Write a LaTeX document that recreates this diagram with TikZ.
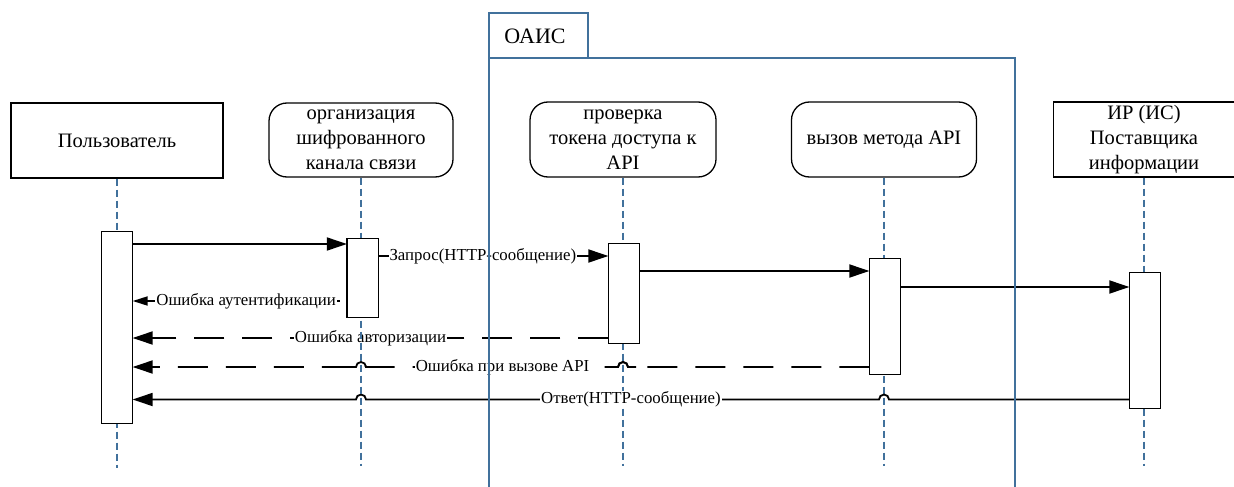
\documentclass[tikz,border=0pt]{standalone}
\usepackage{fontspec}
\setmainfont{Liberation Serif}
\usetikzlibrary{arrows.meta}
\definecolor{lifeblue}{RGB}{65,113,156}
\begin{document}
\begin{tikzpicture}[x=1pt,y=-1pt,
  actorbox/.style={draw, line width=1.3pt, align=center, inner sep=0pt, font=\fontsize{20.5}{25}\selectfont},
  roundbox/.style={actorbox, rounded corners=18pt},
  life/.style={draw=lifeblue, line width=2pt, dash pattern=on 7pt off 4pt},
  act/.style={draw, fill=white, line width=1.3pt, minimum width=30pt, inner sep=0pt},
  msgline/.style={line width=1.8pt},
  msg/.style={msgline, -{Triangle[length=20pt,width=13pt]}},
  ret/.style={msg, dash pattern=on 30pt off 18pt},
  lbl/.style={fill=white, inner sep=1pt, font=\fontsize{16.8}{19}\selectfont},
  frameline/.style={draw=lifeblue, line width=1.3pt}
]
\useasboundingbox (0,0) rectangle (1234,487);

% actors
\node[actorbox, minimum width=212pt, minimum height=75pt] (u) at (117,140.5) {Пользователь};
\node[roundbox, minimum width=184pt, minimum height=74pt] (o) at (361,140) {организация\\шифрованного\\канала связи};
\node[roundbox, minimum width=186pt, minimum height=75pt] (p) at (623,139.5) {проверка\\токена доступа к\\API};
\node[roundbox, minimum width=185pt, minimum height=75pt] (v) at (884,139.5) {вызов метода API};
\node[actorbox, minimum width=181pt, minimum height=75pt] (i) at (1144,139.5) {ИР (ИС)\\Поставщика\\информации};

% lifelines (except o)
\draw[life] (u.south) -- (u.south |- 0,468);
\draw[life] (p.south) -- (p.south |- 0,466);
\draw[life] (v.south) -- (v.south |- 0,466);
\draw[life] (i.south) -- (i.south |- 0,466);

% activation boxes as named nodes (drawn later on top)
\path
  (117,327.5) node[act, minimum height=191pt] (a1) {}
  (362.5,278) node[act, minimum height=78pt] (a2) {}
  (624,293.5) node[act, minimum height=99pt] (a3) {}
  (885,316.5) node[act, minimum height=115pt] (a4) {}
  (1145,340.5) node[act, minimum height=135pt] (a5) {};

% messages
\draw[msg] (a1.east |- 0,244) -- (a2.west |- 0,244);
\draw[msg] (a2.east |- 0,256) -- node[lbl, pos=0.455] (lq) {Запрос(HTTP-сообщение)} (a3.west |- 0,256);
\draw[msg] (a3.east |- 0,271) -- (a4.west |- 0,271);
\draw[msg] (a4.east |- 0,287) -- (a5.west |- 0,287);

\draw[msgline, -{Triangle[length=15pt,width=9pt]}, shorten <=7pt] (a2.west |- 0,301) -- node[lbl, pos=0.47] (le1) {Ошибка аутентификации} (a1.east |- 0,301);

\draw[ret] (a3.west |- 0,338) -- node[lbl] (le2) {Ошибка авторизации} (a1.east |- 0,338);

\coordinate (e3a) at (628,367);
\coordinate (e3b) at (366,367);
\draw[ret] (a4.west |- 0,367) -- (e3a) arc[start angle=0, end angle=180, radius=5pt] -- (e3b) arc[start angle=0, end angle=180, radius=5pt] -- (a1.east |- 0,367);
\draw[msgline] ([xshift=8pt]e3a) -- (e3a) arc[start angle=0, end angle=180, radius=5pt] -- ++(-8,0);
\draw[msgline] ([xshift=8pt]e3b) -- (e3b) arc[start angle=0, end angle=180, radius=5pt] -- ++(-4,0);
\node[lbl] (le3) at (502.5,367) {Ошибка при вызове API};

\coordinate (r1) at (889,399.5);
\coordinate (r2) at (628,399.5);
\coordinate (r3) at (366,399.5);
\draw[msg] (a5.west |- 0,399.5) -- (r1) arc[start angle=0, end angle=180, radius=5pt] -- (r2) arc[start angle=0, end angle=180, radius=5pt] -- (r3) arc[start angle=0, end angle=180, radius=5pt] -- (a1.east |- 0,399.5);
\node[lbl] (lr) at (631,399.5) {Ответ(HTTP-сообщение)};

% OAIS frame
\draw[frameline] (489,487) -- (489,13) -- (588,13) -- (588,58);
\draw[frameline] (489,58) -- (1015,58) -- (1015,487);
\node[font=\fontsize{22}{26}\selectfont, inner sep=0pt] (oais) at (535,36) {ОАИС};

% lifeline o (drawn over the labels)
\draw[life] (o.south) -- (o.south |- 0,466);

% activation boxes on top
\foreach \a in {a1,a2,a3,a4,a5} {
  \draw[line width=1.3pt, fill=white] (\a.north west) rectangle (\a.south east);
}
\end{tikzpicture}
\end{document}
